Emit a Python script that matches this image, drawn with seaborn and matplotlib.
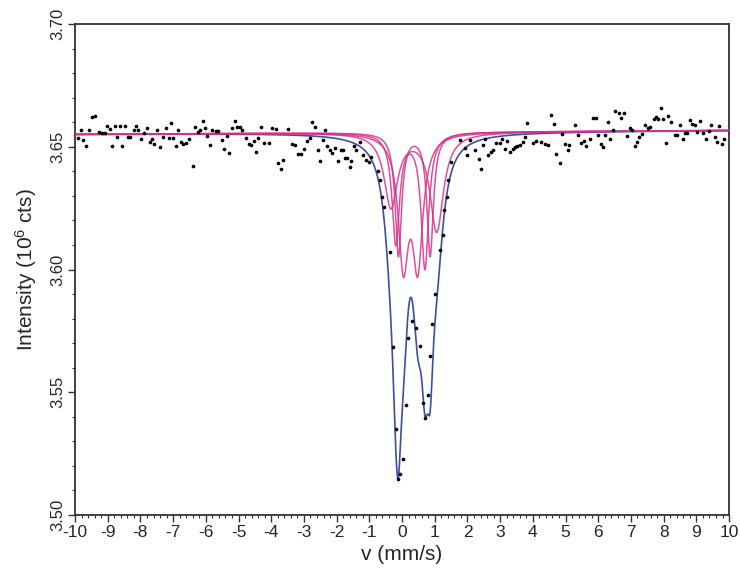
"""Mossbauer spectrum with fitted doublet subspectra."""

import matplotlib
matplotlib.use("Agg")
import matplotlib.pyplot as plt
import numpy as np
import pandas as pd
import seaborn as sns
from matplotlib.ticker import MultipleLocator, FormatStrFormatter

velocity = [
    -9.91, -9.83, -9.75, -9.68, -9.58, -9.49, -9.40, -9.27, -9.17, -9.09,
    -9.02, -8.94, -8.87, -8.78, -8.71, -8.63, -8.56, -8.48, -8.39, -8.31,
    -8.21, -8.13, -8.06, -7.97, -7.90, -7.80, -7.72, -7.65, -7.58, -7.50,
    -7.40, -7.30, -7.21, -7.14, -7.07, -6.99, -6.91, -6.84, -6.76, -6.69,
    -6.61, -6.51, -6.40, -6.33, -6.23, -6.18, -6.10, -6.03, -5.95, -5.88,
    -5.80, -5.69, -5.62, -5.52, -5.45, -5.35, -5.28,
    -5.20, -5.12, -5.05, -4.97, -4.89, -4.76, -4.67, -4.61, -4.54, -4.46,
    -4.39, -4.31, -4.21, -4.08, -3.98, -3.86, -3.78, -3.70, -3.63, -3.48,
    -3.38, -3.27, -3.17, -3.09, -2.99, -2.92, -2.82, -2.75, -2.67, -2.58,
    -2.51, -2.43, -2.36, -2.28, -2.21, -2.14, -2.06, -1.96, -1.88, -1.80,
    -1.75, -1.67, -1.60, -1.55, -1.47, -1.40, -1.30, -1.20, -1.10, -1.01,
    -0.94,
    -0.75, -0.67, -0.62, -0.55, -0.37, -0.29, -0.18, -0.11, -0.06, 0.04,
    0.12, 0.19, 0.29, 0.44, 0.55, 0.63, 0.71, 0.78, 0.87, 0.93,
    1.00, 1.15, 1.25, 1.28, 1.36, 1.41, 1.49,
    1.76, 1.91, 1.98, 2.07, 2.22, 2.34, 2.41, 2.49, 2.54, 2.64,
    2.72, 2.79, 2.88, 3.00, 3.05, 3.15, 3.22, 3.30, 3.38, 3.45,
    3.52, 3.61, 3.69, 3.76, 3.83, 4.01, 4.11, 4.26, 4.37, 4.47,
    4.57, 4.65, 4.72, 4.82, 4.90, 4.97, 5.07, 5.12, 5.30, 5.38,
    5.48, 5.55, 5.63,
    5.74, 5.84, 5.92, 6.00, 6.07, 6.15, 6.22, 6.30, 6.37, 6.45,
    6.52, 6.63, 6.71, 6.78, 6.88, 6.96, 7.03, 7.11, 7.18, 7.26,
    7.33, 7.44, 7.52, 7.59, 7.69, 7.77, 7.84, 7.92, 7.99, 8.07,
    8.14, 8.23, 8.35, 8.42, 8.50, 8.58, 8.65, 8.70, 8.80, 8.88,
    8.96, 9.03, 9.11, 9.21, 9.29, 9.39, 9.46, 9.56, 9.63, 9.69,
    9.77, 9.84,
]
counts = [
    3.6537, 3.6570, 3.6529, 3.6503, 3.6570, 3.6622, 3.6624, 3.6561, 3.6555, 3.6555,
    3.6585, 3.6574, 3.6503, 3.6585, 3.6538, 3.6585, 3.6503, 3.6585, 3.6538, 3.6538,
    3.6567, 3.6585, 3.6570, 3.6533, 3.6555, 3.6577, 3.6520, 3.6533, 3.6510, 3.6570,
    3.6499, 3.6540, 3.6577, 3.6536, 3.6595, 3.6536, 3.6503, 3.6570, 3.6520, 3.6513,
    3.6517, 3.6533, 3.6423, 3.6581, 3.6561, 3.6567, 3.6604, 3.6577, 3.6544, 3.6506,
    3.6567, 3.6563, 3.6563, 3.6528, 3.6493, 3.6543, 3.6475,
    3.6577, 3.6605, 3.6580, 3.6580, 3.6567, 3.6536, 3.6513, 3.6506, 3.6524, 3.6479,
    3.6537, 3.6581, 3.6514, 3.6514, 3.6578, 3.6574, 3.6435, 3.6411, 3.6448, 3.6574,
    3.6510, 3.6506, 3.6472, 3.6472, 3.6493, 3.6524, 3.6537, 3.6601, 3.6580, 3.6488,
    3.6441, 3.6528, 3.6570, 3.6503, 3.6486, 3.6476, 3.6495, 3.6441, 3.6488, 3.6486,
    3.6455, 3.6455, 3.6416, 3.6441, 3.6503, 3.6488, 3.6520, 3.6468, 3.6445, 3.6438,
    3.6459,
    3.6401, 3.6363, 3.6295, 3.6254, 3.6071, 3.5683, 3.5350, 3.5146, 3.5166, 3.5227,
    3.5449, 3.5721, 3.5789, 3.5762, 3.5690, 3.5458, 3.5397, 3.5490, 3.5649, 3.5778,
    3.5901, 3.6078, 3.6139, 3.6241, 3.6295, 3.6363, 3.6438,
    3.6529, 3.6497, 3.6465, 3.6527, 3.6486, 3.6452, 3.6411, 3.6506, 3.6533, 3.6465,
    3.6479, 3.6486, 3.6516, 3.6516, 3.6533, 3.6493, 3.6524, 3.6479, 3.6493, 3.6499,
    3.6502, 3.6506, 3.6520, 3.6538, 3.6597, 3.6516, 3.6523, 3.6520, 3.6513, 3.6506,
    3.6629, 3.6592, 3.6472, 3.6434, 3.6554, 3.6513, 3.6486, 3.6506, 3.6588, 3.6547,
    3.6516, 3.6524, 3.6502,
    3.6533, 3.6618, 3.6618, 3.6550, 3.6513, 3.6499, 3.6550, 3.6601, 3.6533, 3.6570,
    3.6645, 3.6639, 3.6618, 3.6639, 3.6544, 3.6577, 3.6567, 3.6503, 3.6520, 3.6540,
    3.6554, 3.6590, 3.6578, 3.6581, 3.6612, 3.6622, 3.6612, 3.6658, 3.6612, 3.6516,
    3.6626, 3.6601, 3.6547, 3.6547, 3.6590, 3.6533, 3.6558, 3.6558, 3.6611, 3.6594,
    3.6590, 3.6560, 3.6604, 3.6558, 3.6533, 3.6563, 3.6588, 3.6540, 3.6520, 3.6585,
    3.6513, 3.6530,
]

# fitted doublets: line positions, depths and half widths (mm/s, 10^6 cts)
line_left = [0.04, -0.11, -0.19, -0.34]
line_right = [0.48, 0.86, 0.70, 1.06]
depth_left = [0.051, 0.050, 0.045, 0.030]
depth_right = [0.051, 0.050, 0.055, 0.040]
half_width = [0.19, 0.12, 0.14, 0.25]
baseline_offset = 3.6559
baseline_slope = 0.00008

sns.set_theme(style="ticks")
plt.rcParams["font.family"] = ["Liberation Sans", "DejaVu Sans"]
plt.rcParams["mathtext.default"] = "regular"
plt.rcParams["axes.unicode_minus"] = False

v_fit = np.linspace(-10, 10, 2001)
baseline = baseline_offset + baseline_slope * v_fit


def lorentz(v, pos, depth, gamma):
    return depth * gamma**2 / ((v - pos) ** 2 + gamma**2)


subspectra = []
for pl, pr, dl, dr, g in zip(line_left, line_right, depth_left, depth_right, half_width):
    subspectra.append(lorentz(v_fit, pl, dl, g) + lorentz(v_fit, pr, dr, g))
total = baseline - np.sum(subspectra, axis=0)

points = pd.DataFrame({"v": velocity, "counts": counts})

fig = plt.figure(figsize=(7.4, 5.73), dpi=100)
ax = fig.add_axes([0.1014, 0.1012, 0.8838, 0.8568])

sns.lineplot(x=v_fit, y=total, ax=ax, color="#3d4f9f", linewidth=1.2, zorder=2)
for sub in subspectra:
    sns.lineplot(x=v_fit, y=baseline - sub, ax=ax, color="#d8308a",
                 linewidth=1.1, alpha=0.85, zorder=3)
sns.scatterplot(data=points, x="v", y="counts", ax=ax, color="black", s=7,
                linewidth=0, zorder=4)

ax.set_xlim(-10, 10)
ax.set_ylim(3.50, 3.70)
ax.xaxis.set_major_locator(MultipleLocator(1))
ax.xaxis.set_minor_locator(MultipleLocator(0.2))
ax.yaxis.set_major_locator(MultipleLocator(0.05))
ax.yaxis.set_minor_locator(MultipleLocator(0.01))
ax.yaxis.set_major_formatter(FormatStrFormatter("%.2f"))

for spine in ax.spines.values():
    spine.set_visible(True)
    spine.set_color("#333333")
    spine.set_linewidth(1.3)

ax.tick_params(axis="x", which="major", length=5, width=1.0, labelsize=12.5, pad=2,
               color="#333333")
ax.tick_params(axis="y", which="major", length=5, width=1.0, labelsize=12, pad=2,
               color="#333333")
ax.tick_params(which="minor", length=2.5, width=0.8, color="#333333")
for label in ax.get_yticklabels():
    label.set_rotation(90)
    label.set_va("center")

ax.set_xlabel("v (mm/s)", fontsize=15, labelpad=4)
ax.set_ylabel("Intensity (10$^6$ cts)", fontsize=15, labelpad=8)

fig.savefig("out.png", dpi=100)
